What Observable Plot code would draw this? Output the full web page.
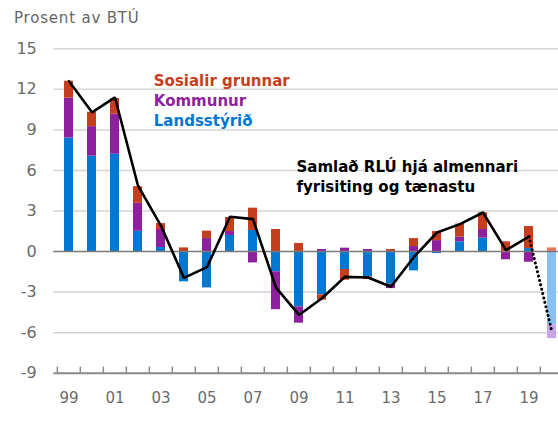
<!DOCTYPE html>
<html><head><meta charset="utf-8">
<script src="https://cdn.jsdelivr.net/npm/d3@7"></script>
<script src="https://cdn.jsdelivr.net/npm/@observablehq/plot@0.6"></script>
<style>
body{margin:0;background:#fff;overflow:hidden;font-family:"DejaVu Sans",sans-serif}
#title{height:36px;box-sizing:border-box;padding:11px 0 0 14px;font-family:"DejaVu Sans",sans-serif;font-size:15px;line-height:15px;letter-spacing:0.8px;color:#666}
#chart svg{display:block;overflow:hidden}
</style></head><body>
<div id="title">Prosent av BTÚ</div>
<div id="chart"></div>
<script>
// ---- data ----
const years = [1999,2000,2001,2002,2003,2004,2005,2006,2007,2008,2009,2010,2011,2012,2013,2014,2015,2016,2017,2018,2019,2020];
const seriesNames = ["Landsstýrið","Kommunur","Sosialir grunnar"];
const landsstyrid = [8.4,7.06,7.2,1.5,0.3,-2.24,-2.69,1.19,1.56,-1.5,-4.1,-3.2,-1.33,-1.87,-2.42,-1.43,-0.15,0.72,0.99,0,0.22,-5.43];
const kommunur    = [2.95,2.18,2.96,2.07,1.33,0,0.96,0.29,-0.84,-2.8,-1.2,0.15,0.25,0.15,-0.32,0.37,0.81,0.35,0.64,-0.61,-0.79,-1.01];
const sosialir    = [1.25,1.06,1.16,1.23,0.44,0.27,0.55,1.04,1.65,1.63,0.6,-0.4,-0.79,-0.2,0.15,0.59,0.67,0.96,1.24,0.72,1.63,0.27];
const samladYears = [1999,2000,2001,2002,2003,2004,2005,2006,2007,2008,2009,2010,2011,2012,2013,2014,2015,2016,2017,2018,2019];
const samlad      = [12.6,10.3,11.4,4.87,1.9,-1.95,-1.15,2.57,2.4,-2.67,-4.69,-3.45,-1.87,-1.92,-2.6,-0.4,1.41,2.03,2.89,0.1,1.1];
const projectedYears = [2019,2020];
const samladProjected = [1.1,-5.95];
const projectedYear = 2020;
const yTicks = [-9,-6,-3,0,3,6,9,12,15];
const gridTicks = [-6,-3,3,6,9,12,15];
const labelYears = [1999,2001,2003,2005,2007,2009,2011,2013,2015,2017,2019];
const legendLabels = ["Sosialir grunnar","Kommunur","Landsstýrið"];
const annotation = "Samlað RLÚ hjá almennari\nfyrisiting og tænastu";

// ---- styles ----
const colors = {"Landsstýrið":"#0078D2","Kommunur":"#8E1F9E","Sosialir grunnar":"#C63F1D"};
const lightColors = {"Landsstýrið":"#87C1F4","Kommunur":"#C8A6E6","Sosialir grunnar":"#EE7562"};
const seriesValues = [landsstyrid, kommunur, sosialir];
const rows = years.flatMap((yr,i)=>seriesNames.map((s,j)=>({year:yr, series:s, value:seriesValues[j][i],
  color:(yr===projectedYear?lightColors:colors)[s]})));

const W = 558, H = 400;
const xRange = [53.3, 566.7];
const step = (xRange[1]-xRange[0])/years.length;
const mTop = 12.3, mBottom = 63.3;
const font = "'DejaVu Sans', sans-serif";

const chart = Plot.plot({
  width: W, height: H,
  marginLeft: 53.3, marginRight: 0, marginTop: mTop, marginBottom: mBottom,
  style: {fontFamily: font, background: "#fff"},
  x: {type:"band", domain: years, range: xRange, paddingInner: 0.6, paddingOuter: 0.3},
  y: {domain: [-9, 15]},
  color: {type: "identity"},
  marks: [
    Plot.ruleY(gridTicks, {stroke:"#d5d5d5", strokeWidth:1.5}),
    Plot.barY(rows, {x:"year", y:"value", fill:"color"}),
    Plot.ruleY([0], {stroke:"#7a7a7a", strokeWidth:1.5}),
    Plot.ruleY([-9], {stroke:"#8a8a8a", strokeWidth:2}),
    Plot.ruleX(years, {x: d=>d, y1:-9, y2:-8.55, dx:-step/2, stroke:"#8a8a8a", strokeWidth:1.5}),
    Plot.axisY({ticks: yTicks, tickSize:0, tickPadding:17, tickFormat: d=>String(d), fontSize:16, color:"#6a6a6a", label:null}),
    Plot.axisX({ticks: labelYears, tickSize:0, tickPadding:19, tickFormat: d=>String(d).slice(2), fontSize:15, color:"#6a6a6a", label:null}),
    Plot.lineY(samlad, {x: samladYears, stroke:"#000", strokeWidth:2.6, strokeLinejoin:"miter"}),
    Plot.lineY(samladProjected, {x: projectedYears, stroke:"#000", strokeWidth:3, strokeDasharray:"0.1,4.4", strokeLinecap:"round"}),
    Plot.text([legendLabels[0]], {frameAnchor:"top-left", lineAnchor:"top", textAnchor:"start", dx:100, dy:27, fill:colors["Sosialir grunnar"], fontWeight:"bold", fontSize:15}),
    Plot.text([legendLabels[1]], {frameAnchor:"top-left", lineAnchor:"top", textAnchor:"start", dx:100, dy:47, fill:colors["Kommunur"], fontWeight:"bold", fontSize:15}),
    Plot.text([legendLabels[2]], {frameAnchor:"top-left", lineAnchor:"top", textAnchor:"start", dx:100, dy:66.5, fill:colors["Landsstýrið"], fontWeight:"bold", fontSize:15}),
    Plot.text([annotation], {frameAnchor:"top-left", lineAnchor:"top", textAnchor:"start", dx:242.7, dy:109, fill:"#000", fontWeight:"bold", fontSize:15, lineHeight:1.33})
  ]
});
document.getElementById("chart").appendChild(chart);
</script>
</body></html>
